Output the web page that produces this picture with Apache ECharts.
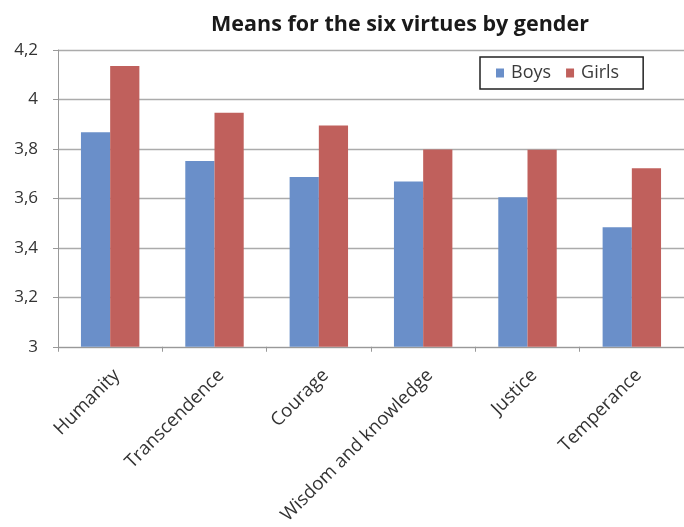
<!DOCTYPE html>
<html>
<head>
<meta charset="utf-8">
<script src="https://cdn.jsdelivr.net/npm/echarts@6/dist/echarts.min.js"></script>
<style>html,body{margin:0;padding:0;background:#fff}#c{width:684px;height:527px}</style>
</head>
<body>
<div id="c"></div>
<script>
var categories = ['Humanity', 'Transcendence', 'Courage', 'Wisdom and knowledge', 'Justice', 'Temperance'];
var boys = [3.867, 3.751, 3.686, 3.668, 3.605, 3.483];
var girls = [4.135, 3.946, 3.895, 3.798, 3.797, 3.722];
var yTicks = [3, 3.2, 3.4, 3.6, 3.8, 4, 4.2];

var chart = echarts.init(document.getElementById('c'));
var font = '"Open Sans", "Liberation Sans", sans-serif';
chart.setOption({
  animation: false,
  title: {
    text: 'Means for the six virtues by gender',
    left: 395, top: 9, textAlign: 'center',
    textStyle: {fontFamily: font, fontSize: 21.5, fontWeight: 'bold', color: '#1a1a1a'}
  },
  legend: {
    data: ['Boys', 'Girls'],
    left: 480, top: 57,
    padding: [7, 24, 7, 16],
    borderColor: '#222', borderWidth: 1.5,
    itemWidth: 8, itemHeight: 9, itemGap: 15,
    icon: 'rect',
    textStyle: {fontFamily: font, fontSize: 18, color: '#3a3a3a', padding: [0, 0, 0, 2]}
  },
  grid: {left: 58, right: 0, top: 50, bottom: 179, containLabel: false},
  xAxis: {
    type: 'category',
    data: categories,
    axisLine: {lineStyle: {color: '#999', width: 1}},
    axisTick: {show: true, length: 5, lineStyle: {color: '#999'}},
    axisLabel: {rotate: 45, fontFamily: font, fontSize: 18.5, color: '#333', margin: 19,
                verticalAlign: 'top', interval: 0}
  },
  yAxis: {
    type: 'value',
    min: 3, max: 4.2, interval: 0.2,
    axisLine: {show: true, lineStyle: {color: '#999'}},
    axisTick: {show: true, length: 5, inside: false, lineStyle: {color: '#999'}},
    splitLine: {lineStyle: {color: '#ababab', width: 1.3}},
    axisLabel: {
      fontFamily: font, fontSize: 17, color: '#333', margin: 20,
      formatter: function (v) {
        var t = yTicks.find(function (k) { return Math.abs(k - v) < 1e-6; });
        var s = (t !== undefined ? t : v).toString();
        return s.replace('.', ',');
      }
    }
  },
  series: [
    {name: 'Boys', type: 'bar', data: boys, barGap: '0%', barCategoryGap: '44%',
     itemStyle: {color: '#6a8fc9'}},
    {name: 'Girls', type: 'bar', data: girls, barGap: '0%', barCategoryGap: '44%',
     itemStyle: {color: '#c0605c'}}
  ]
});
</script>
</body>
</html>
